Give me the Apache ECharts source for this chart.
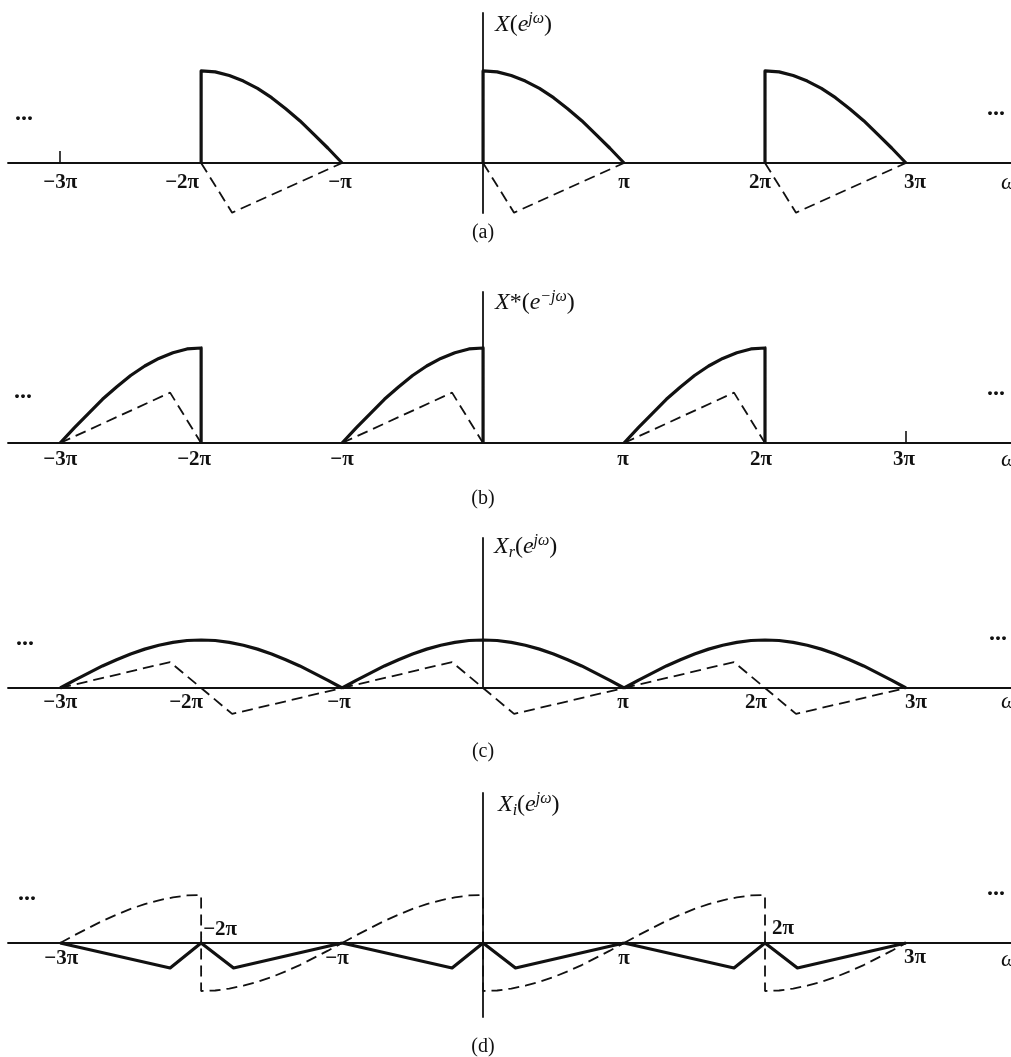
<!DOCTYPE html>
<html><head><meta charset="utf-8">
<script src="https://cdn.jsdelivr.net/npm/echarts@6/dist/echarts.min.js"></script>
<style>html,body{margin:0;padding:0;background:#fff}#c{width:1011px;height:1057px}</style>
</head><body><div id="c"></div><script>
// ω is expressed in units of π
const tickText = {'-3':'−3π','-2':'−2π','-1':'−π','1':'π','2':'2π','3':'3π'};

// (a) X(e^{jω}) : one period, copies shifted by these offsets
const aPeriods = [-2, 0, 2];
const aSolid  = [[0,0],[0,1],[0.1,0.99],[0.2,0.95],[0.3,0.89],[0.4,0.81],[0.5,0.71],[0.6,0.59],[0.7,0.46],[0.8,0.31],[0.9,0.16],[1,0]];
const aDashed = [[0,0],[0.22,-0.54],[1,0]];
const aLabels = [-3,-2,-1,1,2,3];
const aTicks  = [-3];

// (b) X*(e^{-jω})
const bPeriods = [-2, 0, 2];
const bSolid  = [[-1,0],[-0.9,0.16],[-0.8,0.31],[-0.7,0.46],[-0.6,0.59],[-0.5,0.71],[-0.4,0.81],[-0.3,0.89],[-0.2,0.95],[-0.1,0.99],[0,1],[0,0]];
const bDashed = [[-1,0],[-0.22,0.53],[0,0]];
const bLabels = [-3,-2,-1,1,2,3];
const bTicks  = [3];

// (c) X_r(e^{jω})
const cPeriods = [-2, 0, 2];
const cSolid  = [[-1,0],[-0.9,0.08],[-0.8,0.155],[-0.7,0.23],[-0.6,0.295],[-0.5,0.355],[-0.4,0.405],[-0.3,0.445],[-0.2,0.475],[-0.1,0.495],[0,0.5],[0.1,0.495],[0.2,0.475],[0.3,0.445],[0.4,0.405],[0.5,0.355],[0.6,0.295],[0.7,0.23],[0.8,0.155],[0.9,0.08],[1,0]];
const cDashed = [[-1,0],[-0.22,0.27],[0.22,-0.27],[1,0]];
const cLabels = [-3,-2,-1,1,2,3];

// (d) X_i(e^{jω})
const dPeriods = [-2, 0, 2];
const dSolid  = [[-1,0],[-0.22,-0.26],[0,0],[0.23,-0.26],[1,0]];
const dDashed = [[-1,0],[-0.9,0.08],[-0.8,0.155],[-0.7,0.23],[-0.6,0.295],[-0.5,0.355],[-0.4,0.405],[-0.3,0.445],[-0.2,0.475],[-0.1,0.495],[0,0.5],[0,-0.5],[0.1,-0.495],[0.2,-0.475],[0.3,-0.445],[0.4,-0.405],[0.5,-0.355],[0.6,-0.295],[0.7,-0.23],[0.8,-0.155],[0.9,-0.08],[1,0]];
const dLabels = [-3,-2,-1,1,2,3];

const INK = '#111';
const XMIN = -3.37, XMAX = 3.745;
const SERIF = '"Liberation Serif","DejaVu Serif",serif';

// layout: grid placement and per-label pixel nudges [dx, dy] from the tick point
const layout = [
  {top:13,  height:200, ymin:-0.5435, ymax:1.630, labels:aLabels, ticks:aTicks,
   nudge:{'-3':[0,20],'-2':[-19,20],'-1':[-2,20],'1':[0,20],'2':[-5,20],'3':[9,20]}},
  {top:292, height:151, ymin:0,       ymax:1.589, labels:bLabels, ticks:bTicks,
   nudge:{'-3':[0,17],'-2':[-7,17],'-1':[0,17],'1':[-1,17],'2':[-4,17],'3':[-2,17]}},
  {top:538, height:150, ymin:0,       ymax:1.5625, labels:cLabels, ticks:[],
   nudge:{'-3':[0,15],'-2':[-15,15],'-1':[-3,15],'1':[-1,15],'2':[-9,15],'3':[10,15]}},
  {top:793, height:224, ymin:-0.771,  ymax:1.5625, labels:dLabels, ticks:[],
   nudge:{'-3':[1,16],'-2':[19,-13],'-1':[-5,16],'1':[0,16],'2':[18,-14],'3':[9,15]}}
];

const grid = [], xAxis = [], yAxis = [], series = [];
layout.forEach((p, i) => {
  grid.push({left:8, right:0, top:p.top, height:p.height});
  xAxis.push({
    type:'value', gridIndex:i, min:XMIN, max:XMAX,
    axisLine:{onZero:true, lineStyle:{color:INK, width:1.8}},
    axisTick:{show:p.ticks.length>0, customValues:p.ticks, inside:true, length:12, lineStyle:{color:INK, width:1.6}},
    axisLabel:{show:false},
    splitLine:{show:false}
  });
  yAxis.push({
    type:'value', gridIndex:i, min:p.ymin, max:p.ymax,
    axisLine:{show:true, onZero:true, lineStyle:{color:INK, width:1.8}},
    axisTick:{show:false}, axisLabel:{show:false}, splitLine:{show:false}
  });
  // tick labels, placed at the ω positions on the zero line
  series.push({
    type:'scatter', xAxisIndex:i, yAxisIndex:i, symbolSize:0, itemStyle:{color:'rgba(0,0,0,0)'}, silent:true, z:5,
    data:p.labels.map(v => ({value:[v,0], label:{offset:p.nudge[String(v)]}})),
    label:{show:true, position:'inside', formatter:q => tickText[String(q.value[0])],
      fontFamily:SERIF, fontWeight:'bold', fontSize:21, color:INK, opacity:1,
      textBorderWidth:0, textBorderColor:'transparent', textShadowBlur:0}
  });
});

function shift(arr, k){ return arr.map(d => [d[0] + k, d[1]]); }
function addShape(gi, arr, periods, dashed){
  periods.forEach(k => series.push({
    type:'line', xAxisIndex:gi, yAxisIndex:gi, data:shift(arr, k),
    symbol:'none', clip:false, silent:true, z: dashed ? 2 : 3,
    lineStyle: dashed ? {color:INK, width:1.8, type:[11,6]} : {color:INK, width:3.2, join:'round'}
  }));
}
addShape(0, aSolid, aPeriods, false); addShape(0, aDashed, aPeriods, true);
addShape(1, bSolid, bPeriods, false); addShape(1, bDashed, bPeriods, true);
addShape(2, cSolid, cPeriods, false); addShape(2, cDashed, cPeriods, true);
addShape(3, dSolid, dPeriods, false); addShape(3, dDashed, dPeriods, true);

const mainSt = {fontFamily:SERIF, fontStyle:'italic', fontSize:24, fill:INK, color:INK, lineHeight:28};
const upSt   = {fontFamily:SERIF, fontSize:24, fill:INK, color:INK, lineHeight:28};
const supSt  = {fontFamily:SERIF, fontStyle:'italic', fontSize:16, fill:INK, color:INK, verticalAlign:'top', lineHeight:16};
const subSt  = {fontFamily:SERIF, fontStyle:'italic', fontSize:16, fill:INK, color:INK, verticalAlign:'bottom', lineHeight:16};
function title(x, y, text){
  return {type:'text', x:x, y:y, silent:true, style:{text:text, align:'left', textAlign:'left', verticalAlign:'middle', textVerticalAlign:'middle',
    rich:{m:mainSt, u:upSt, s:supSt, b:subSt}}};
}
function plain(x, y, text, font, extra){
  return {type:'text', x:x, y:y, silent:true, style:Object.assign({text:text, font:font, fill:INK,
    align:'center', textAlign:'center', verticalAlign:'middle', textVerticalAlign:'middle'}, extra||{})};
}
const CAP = '20px ' + SERIF, DOTS = 'bold 24px ' + SERIF, OMEGA = 'italic 23px ' + SERIF;
const graphic = [
  title(495, 25,  '{m|X}{u|(}{m|e}{s|jω}{u|)}'),
  title(495, 303, '{m|X}{u|*(}{m|e}{s|−jω}{u|)}'),
  title(494, 547, '{m|X}{b|r}{u|(}{m|e}{s|jω}{u|)}'),
  title(498, 805, '{m|X}{b|i}{u|(}{m|e}{s|jω}{u|)}'),
  plain(483, 233, '(a)', CAP), plain(483, 499, '(b)', CAP), plain(483, 752, '(c)', CAP), plain(483, 1047, '(d)', CAP),
  plain(24, 114, '...', DOTS), plain(996, 109, '...', DOTS),
  plain(23, 392, '...', DOTS), plain(996, 389, '...', DOTS),
  plain(25, 639, '...', DOTS), plain(998, 634, '...', DOTS),
  plain(27, 894, '...', DOTS), plain(996, 889, '...', DOTS),
  plain(1001, 183, 'ω', OMEGA, {align:'left', textAlign:'left'}),
  plain(1001, 460, 'ω', OMEGA, {align:'left', textAlign:'left'}),
  plain(1001, 702, 'ω', OMEGA, {align:'left', textAlign:'left'}),
  plain(1001, 960, 'ω', OMEGA, {align:'left', textAlign:'left'})
];

const chart = echarts.init(document.getElementById('c'), null, {renderer:'canvas'});
chart.setOption({backgroundColor:'#fff', animation:false, grid, xAxis, yAxis, series, graphic});
</script></body></html>
